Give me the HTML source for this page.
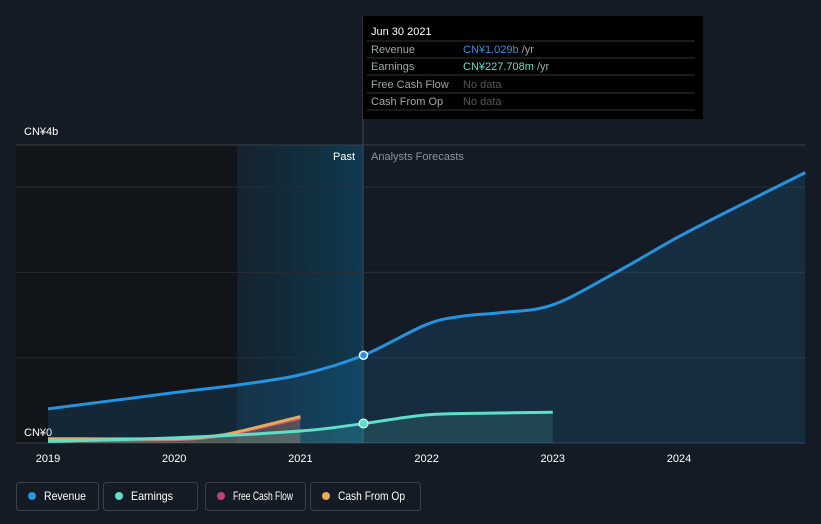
<!DOCTYPE html>
<html><head><meta charset="utf-8"><style>
body{margin:0;background:#151b24;font-family:"Liberation Sans",sans-serif;}
svg{display:block}
</style></head><body>
<svg width="821" height="524" xmlns="http://www.w3.org/2000/svg" id="chart">
<rect width="821" height="524" fill="#151b24"/>
<rect x="16" y="145" width="221" height="298" fill="#111419"/>
<defs><linearGradient id="pg" x1="0" x2="1"><stop offset="0" stop-color="#12303f" stop-opacity="0.4"/><stop offset="1" stop-color="#0f3a50"/></linearGradient></defs>
<rect x="237" y="145" width="126" height="298" fill="url(#pg)"/>
<g id="grid"></g>
<line x1="363" y1="16" x2="363" y2="443" stroke="#3a4a5a" stroke-width="1"/>
<text x="355" y="160" fill="#fff" font-size="11" text-anchor="end">Past</text>
<text x="371" y="160" fill="#8a939d" font-size="11">Analysts Forecasts</text>
<text x="24" y="135" fill="#fff" font-size="11">CN¥4b</text>
<text x="24" y="436" fill="#fff" font-size="11">CN¥0</text>
<g id="series"></g>
<g id="xticks"></g>
<g>
<rect x="363" y="16" width="340" height="103" fill="#000"/>
<text x="371" y="35" fill="#fff" font-size="11">Jun 30 2021</text>
<line x1="367" y1="41" x2="695" y2="41" stroke="#333"/>
<text x="371" y="53" fill="#9aa" font-size="11">Revenue</text><text x="463" y="53" fill="#2394df" font-size="11">CN¥1.029b <tspan fill="#9aa">/yr</tspan></text>
<line x1="367" y1="58" x2="695" y2="58" stroke="#333"/>
<text x="371" y="70" fill="#9aa" font-size="11">Earnings</text><text x="463" y="70" fill="#5ee0c8" font-size="11">CN¥227.708m <tspan fill="#9aa">/yr</tspan></text>
<line x1="367" y1="75" x2="695" y2="75" stroke="#333"/>
<text x="371" y="88" fill="#9aa" font-size="11">Free Cash Flow</text><text x="463" y="88" fill="#555" font-size="11">No data</text>
<line x1="367" y1="93" x2="695" y2="93" stroke="#333"/>
<text x="371" y="105" fill="#9aa" font-size="11">Cash From Op</text><text x="463" y="105" fill="#555" font-size="11">No data</text>
<line x1="367" y1="110" x2="695" y2="110" stroke="#333"/>
</g>
<g id="legend"></g>
</svg>
<script>
const years=[2019,2020,2021,2022,2023,2024];
const gridVals=[1,2,3];
const revT=[2019,2020,2020.5,2021,2021.5,2022,2022.3,2022.6,2023,2023.5,2024,2024.5,2025];
const revV=[0.40,0.59,0.68,0.80,1.029,1.39,1.49,1.53,1.62,2.0,2.42,2.8,3.17];
const earT=[2019,2020,2021,2021.5,2022,2022.5,2023];
const earV=[0.02,0.06,0.14,0.228,0.33,0.35,0.36];
const cfoT=[2019,2020,2020.3,2020.5,2021];
const cfoV=[0.05,0.05,0.08,0.13,0.31];
const fcfT=[2019,2020,2020.3,2020.5,2021];
const fcfV=[0.03,0.04,0.07,0.12,0.29];
const X=t=>48+(t-2019)*126.2, Y=v=>443-v*85.3;
const NS="http://www.w3.org/2000/svg";
function mk(tag,a,p){const e=document.createElementNS(NS,tag);for(const k in a)e.setAttribute(k,a[k]);p.appendChild(e);return e;}
const grid=document.getElementById('grid');
mk('line',{x1:16,x2:805,y1:145,y2:145,stroke:'#3a4048'},grid);
mk('line',{x1:16,x2:805,y1:443,y2:443,stroke:'#3a4048'},grid);
gridVals.forEach(v=>{const l=mk('line',{x1:16,x2:805,y1:Y(v),y2:Y(v),stroke:'#262d36'},grid);

});
const xt=document.getElementById('xticks');
years.forEach(y=>{const t=mk('text',{x:X(y),y:462,fill:'#fff','font-size':11,'text-anchor':'middle'},xt);t.textContent=y;

});
function smooth(T,V){const p=T.map((t,i)=>[X(t),Y(V[i])]);let d='M'+p[0];for(let i=1;i<p.length;i++){const p0=p[Math.max(i-2,0)],p1=p[i-1],p2=p[i],p3=p[Math.min(i+1,p.length-1)];
d+=` C${p1[0]+(p2[0]-p0[0])/6},${p1[1]+(p2[1]-p0[1])/6} ${p2[0]-(p3[0]-p1[0])/6},${p2[1]-(p3[1]-p1[1])/6} ${p2[0]},${p2[1]}`;}return d;}
const s=document.getElementById('series');
function series(T,V,col,fill,name){const d=smooth(T,V);
const a=mk('path',{d:d+` L${X(T[T.length-1])},443 L${X(T[0])},443Z`,fill:fill},s);


const l=mk('path',{d:d,fill:'none',stroke:col,'stroke-width':3},s);

}
series(revT,revV,'#2394df','rgba(35,148,223,0.15)','revenue');
series(fcfT,fcfV,'#c4407a','rgba(196,64,122,0.15)','free-cash-flow');
series(cfoT,cfoV,'#e8a95b','rgba(232,169,91,0.2)','cash-from-op');
series(earT,earV,'#5ee0c8','rgba(94,224,200,0.15)','earnings');
const d1=mk('circle',{cx:X(2021.5),cy:Y(1.029),r:4,fill:'#2394df',stroke:'#fff','stroke-width':1.5},s);


const d2=mk('circle',{cx:X(2021.5),cy:Y(0.228),r:4.5,fill:'#5ee0c8',stroke:'#fff','stroke-width':1},s);


const lg=document.getElementById('legend');
const items=[['Revenue','#2394df',16,82,42],['Earnings','#5ee0c8',103,94,42],['Free Cash Flow','#c4407a',205,100,60],['Cash From Op','#e8a95b',310,110,67]];
items.forEach(([n,c,x,w,tl])=>{const g=mk('g',{},lg);


mk('rect',{x:x+0.5,y:482.5,width:w,height:28,rx:3,fill:'none',stroke:'#3a414a'},g);
mk('circle',{cx:x+16,cy:496,r:4,fill:c},g);
const t=mk('text',{x:x+28,y:500,fill:'#fff','font-size':12,textLength:tl,lengthAdjust:'spacingAndGlyphs'},g);t.textContent=n;});
</script>
</body></html>
